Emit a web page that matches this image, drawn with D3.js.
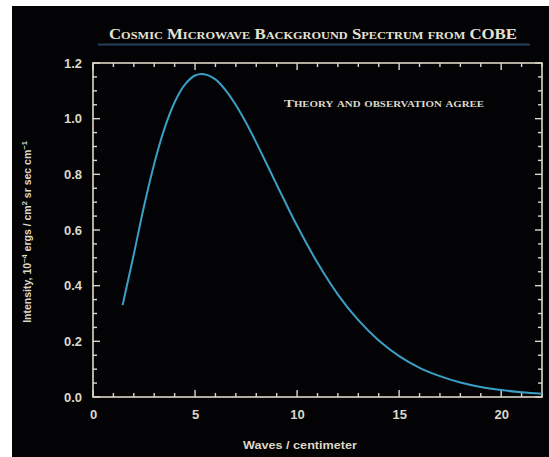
<!DOCTYPE html>
<html><head><meta charset="utf-8">
<script src="https://cdn.jsdelivr.net/npm/d3@7"></script>
<style>html,body{margin:0;padding:0;background:#fff;}svg{display:block;}</style>
</head><body>
<svg id="c" width="549" height="457"></svg>
<script>
const waves = [1.45,2,2.5,3,3.5,4,4.5,5,5.5,6,6.5,7,7.5,8,8.5,9,9.5,10,11,12,13,14,15,16,17,18,19,20,21,22];
const intensity = [0.33,0.513,0.685,0.838,0.964,1.059,1.122,1.155,1.159,1.141,1.102,1.049,0.985,0.914,0.839,0.763,0.688,0.615,0.482,0.368,0.276,0.203,0.147,0.105,0.075,0.052,0.036,0.025,0.017,0.0115];
const xTicks = [0,5,10,15,20];
const yTicks = [0.0,0.2,0.4,0.6,0.8,1.0,1.2];
const titleText = "Cosmic Microwave Background Spectrum from COBE";
const noteText = "Theory and observation agree";
const xTitle = "Waves / centimeter";

const svg = d3.select("#c");
const fg = "#dcd8c8";
svg.append("rect").attr("x",12).attr("y",6).attr("width",549-12).attr("height",457-6).attr("fill","#030305");

const L=93, R=542, T=63, B=397;
const x = d3.scaleLinear().domain([0,22]).range([L,R]);
const y = d3.scaleLinear().domain([0,1.2]).range([B,T]);

// title
svg.append("text").attr("x",313).attr("y",39).attr("text-anchor","middle")
  .attr("font-family","Liberation Serif, serif").attr("font-weight","bold")
  .attr("font-variant","small-caps").attr("font-size",15).attr("fill","#e6e2d2")
  .attr("textLength",408).attr("lengthAdjust","spacingAndGlyphs").text(titleText);
svg.append("line").attr("x1",98).attr("x2",530).attr("y1",44.5).attr("y2",44.5)
  .attr("stroke","#24405c").attr("stroke-width",2);

// frame
svg.append("rect").attr("x",L).attr("y",T).attr("width",R-L).attr("height",B-T)
  .attr("fill","none").attr("stroke",fg).attr("stroke-width",1.6);

// ticks
const xMinor = d3.range(0,23,1);
const yMinor = d3.range(0,1.2001,0.05);
const tg = svg.append("g").attr("stroke",fg).attr("stroke-width",1.4);
xMinor.forEach(v=>{
  const len = v%5===0?7:4;
  tg.append("line").attr("x1",x(v)).attr("x2",x(v)).attr("y1",B).attr("y2",B-len);
  tg.append("line").attr("x1",x(v)).attr("x2",x(v)).attr("y1",T).attr("y2",T+len);
});
yMinor.forEach((v,i)=>{
  const len = i%4===0?7:4;
  tg.append("line").attr("x1",L).attr("x2",L+len).attr("y1",y(v)).attr("y2",y(v));
  tg.append("line").attr("x1",R).attr("x2",R-len).attr("y1",y(v)).attr("y2",y(v));
});

// axes labels via d3 axis
const xAxis = d3.axisBottom(x).tickValues(xTicks).tickSize(0).tickPadding(13).tickFormat(d3.format("d"));
const gx = svg.append("g").attr("transform",`translate(0,${B})`).call(xAxis);
const yAxis = d3.axisLeft(y).tickValues(yTicks).tickSize(0).tickPadding(11).tickFormat(d3.format(".1f"));
const gy = svg.append("g").attr("transform",`translate(${L},0)`).call(yAxis);
[gx,gy].forEach(g=>{
  g.select(".domain").remove();
  g.selectAll("text").attr("font-family","Liberation Sans, Arial, sans-serif")
   .attr("font-weight","bold").attr("font-size",13).attr("fill",fg);
});

// curve
const line = d3.line().x((d,i)=>x(waves[i])).y(d=>y(d)).curve(d3.curveCatmullRom);
svg.append("path").datum(intensity).attr("d",line).attr("fill","none")
  .attr("stroke","#3b9fc6").attr("stroke-width",2);

// note
svg.append("text").attr("x",384).attr("y",107).attr("text-anchor","middle")
  .attr("font-family","Liberation Serif, serif").attr("font-weight","bold")
  .attr("font-variant","small-caps").attr("font-size",11).attr("fill","#dedacb")
  .attr("textLength",200).attr("lengthAdjust","spacingAndGlyphs").text(noteText);

// x title
svg.append("text").attr("x",300).attr("y",449).attr("text-anchor","middle")
  .attr("font-family","Liberation Sans, Arial, sans-serif").attr("font-weight","bold")
  .attr("font-size",11).attr("fill",fg)
  .attr("textLength",114).attr("lengthAdjust","spacingAndGlyphs").text(xTitle);

// y title
const yt = svg.append("text").attr("transform","translate(31,232) rotate(-90)")
  .attr("text-anchor","middle").attr("font-family","Liberation Sans, Arial, sans-serif")
  .attr("font-weight","bold").attr("font-size",10.5).attr("fill",fg);
yt.append("tspan").text("Intensity, 10");
yt.append("tspan").attr("dy",-4).attr("font-size",7.5).text("\u22124");
yt.append("tspan").attr("dy",4).text(" ergs / cm");
yt.append("tspan").attr("dy",-4).attr("font-size",7.5).text("2");
yt.append("tspan").attr("dy",4).text(" sr sec cm");
yt.append("tspan").attr("dy",-4).attr("font-size",7.5).text("\u22121");
</script>
</body></html>
